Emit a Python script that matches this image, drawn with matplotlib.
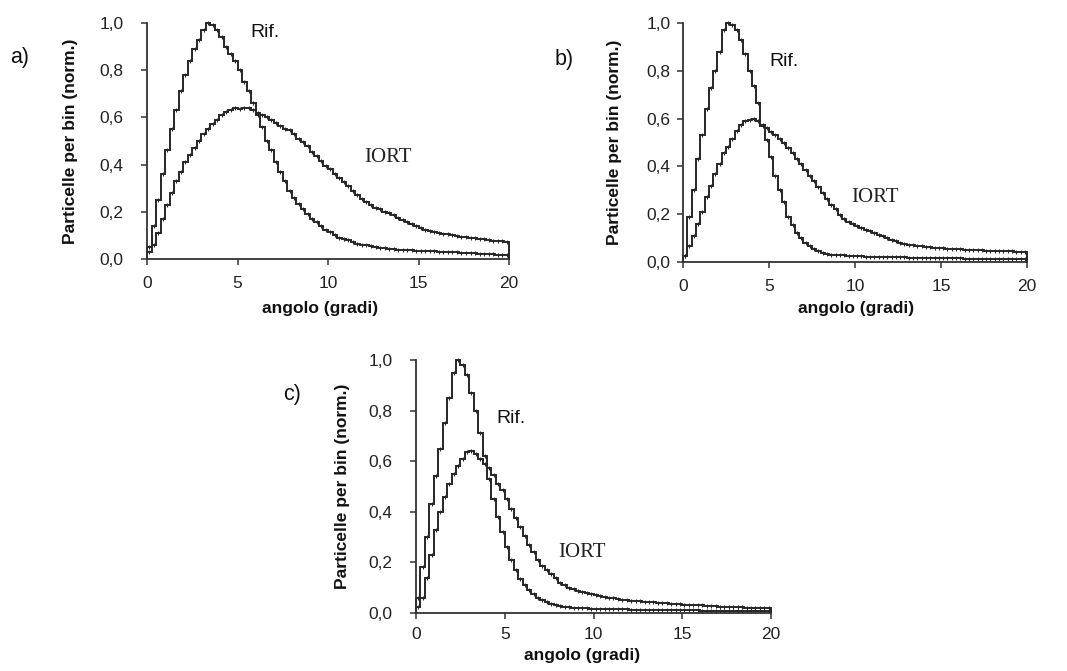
import numpy as np
import matplotlib
matplotlib.use("Agg")
import matplotlib.pyplot as plt

plt.rcParams['font.family'] = ['Liberation Sans', 'DejaVu Sans']

# bin edges: 0-20 deg, 0.25 deg bins
bin_width = 0.25
n_bins = 80

x_ticks = [0, 5, 10, 15, 20]
y_ticks = [0.0, 0.2, 0.4, 0.6, 0.8, 1.0]
y_tick_labels = ["0,0", "0,2", "0,4", "0,6", "0,8", "1,0"]

# ---- panel a ----
rif_a = [0.05, 0.14, 0.25, 0.36, 0.46, 0.55, 0.63, 0.71, 0.78, 0.84,
         0.89, 0.93, 0.97, 1.00, 0.99, 0.97, 0.94, 0.90, 0.87, 0.84,
         0.80, 0.75, 0.71, 0.66, 0.61, 0.56, 0.50, 0.46, 0.41, 0.37,
         0.33, 0.29, 0.26, 0.235, 0.21, 0.19, 0.17, 0.155, 0.14, 0.125,
         0.115, 0.10, 0.09, 0.085, 0.08, 0.07, 0.065, 0.06, 0.058, 0.055,
         0.05, 0.048, 0.046, 0.044, 0.042, 0.04, 0.039, 0.038, 0.037, 0.036,
         0.035, 0.034, 0.033, 0.032, 0.031, 0.030, 0.029, 0.028, 0.028, 0.027,
         0.026, 0.025, 0.024, 0.023, 0.022, 0.021, 0.020, 0.019, 0.018, 0.018]
iort_a = [0.03, 0.06, 0.11, 0.17, 0.23, 0.28, 0.33, 0.37, 0.41, 0.44,
          0.47, 0.50, 0.53, 0.55, 0.57, 0.59, 0.61, 0.625, 0.63, 0.64,
          0.635, 0.64, 0.64, 0.63, 0.62, 0.61, 0.60, 0.59, 0.575, 0.565,
          0.55, 0.545, 0.53, 0.51, 0.495, 0.48, 0.455, 0.435, 0.415, 0.395,
          0.38, 0.36, 0.345, 0.325, 0.31, 0.29, 0.27, 0.255, 0.24, 0.23,
          0.215, 0.21, 0.20, 0.195, 0.185, 0.175, 0.165, 0.155, 0.15, 0.14,
          0.13, 0.125, 0.12, 0.115, 0.11, 0.108, 0.105, 0.10, 0.098, 0.095,
          0.092, 0.09, 0.088, 0.085, 0.083, 0.08, 0.078, 0.076, 0.075, 0.073]

# ---- panel b ----
rif_b = [0.025, 0.19, 0.30, 0.43, 0.53, 0.64, 0.73, 0.80, 0.88, 0.97,
         1.00, 0.99, 0.97, 0.93, 0.87, 0.80, 0.735, 0.665, 0.57, 0.51,
         0.44, 0.36, 0.30, 0.25, 0.19, 0.155, 0.12, 0.10, 0.08, 0.065,
         0.055, 0.045, 0.038, 0.033, 0.031, 0.030, 0.029, 0.028, 0.027, 0.026,
         0.025, 0.024, 0.023, 0.023, 0.022, 0.022, 0.021, 0.021, 0.020, 0.020,
         0.019, 0.019, 0.018, 0.018, 0.018, 0.017, 0.017, 0.017, 0.016, 0.016,
         0.016, 0.015, 0.015, 0.015, 0.015, 0.014, 0.014, 0.014, 0.014, 0.013,
         0.013, 0.013, 0.013, 0.013, 0.012, 0.012, 0.012, 0.012, 0.012, 0.012]
iort_b = [0.025, 0.065, 0.11, 0.16, 0.21, 0.27, 0.32, 0.37, 0.41, 0.455,
          0.48, 0.515, 0.55, 0.575, 0.59, 0.595, 0.598, 0.59, 0.575, 0.56,
          0.545, 0.53, 0.515, 0.50, 0.475, 0.455, 0.43, 0.41, 0.385, 0.36,
          0.34, 0.315, 0.29, 0.265, 0.24, 0.22, 0.195, 0.18, 0.168, 0.16,
          0.15, 0.142, 0.135, 0.128, 0.12, 0.113, 0.107, 0.10, 0.093, 0.087,
          0.08, 0.076, 0.073, 0.07, 0.067, 0.065, 0.063, 0.061, 0.06, 0.058,
          0.057, 0.056, 0.055, 0.054, 0.053, 0.052, 0.051, 0.05, 0.05, 0.049,
          0.048, 0.047, 0.046, 0.046, 0.045, 0.044, 0.044, 0.043, 0.042, 0.042]

# ---- panel c ----
rif_c = [0.06, 0.18, 0.30, 0.43, 0.54, 0.65, 0.75, 0.85, 0.95, 1.00,
         0.98, 0.94, 0.87, 0.80, 0.71, 0.62, 0.53, 0.45, 0.38, 0.32,
         0.26, 0.21, 0.17, 0.135, 0.11, 0.09, 0.075, 0.06, 0.05, 0.042,
         0.036, 0.032, 0.028, 0.025, 0.023, 0.021, 0.020, 0.019, 0.018, 0.017,
         0.017, 0.016, 0.016, 0.015, 0.015, 0.014, 0.014, 0.014, 0.013, 0.013,
         0.013, 0.012, 0.012, 0.012, 0.012, 0.011, 0.011, 0.011, 0.011, 0.010,
         0.010, 0.010, 0.010, 0.010, 0.009, 0.009, 0.009, 0.009, 0.009, 0.009,
         0.009, 0.008, 0.008, 0.008, 0.008, 0.008, 0.008, 0.008, 0.008, 0.008]
iort_c = [0.025, 0.06, 0.14, 0.23, 0.33, 0.40, 0.46, 0.51, 0.55, 0.58,
          0.61, 0.635, 0.64, 0.63, 0.61, 0.59, 0.575, 0.545, 0.51, 0.485,
          0.45, 0.41, 0.375, 0.34, 0.305, 0.27, 0.24, 0.21, 0.185, 0.17,
          0.155, 0.14, 0.12, 0.11, 0.10, 0.095, 0.088, 0.083, 0.079, 0.075,
          0.071, 0.068, 0.064, 0.061, 0.058, 0.056, 0.053, 0.051, 0.049, 0.048,
          0.046, 0.045, 0.043, 0.042, 0.041, 0.039, 0.038, 0.037, 0.035, 0.034,
          0.032, 0.032, 0.031, 0.030, 0.030, 0.029, 0.028, 0.027, 0.025, 0.025,
          0.024, 0.023, 0.022, 0.022, 0.021, 0.020, 0.020, 0.019, 0.019, 0.018]

LINE = "#262626"


def draw_panel(ax, rif, iort, letter, letter_xy, rif_xy, iort_xy,
               ylab_x, xlab_xy, ypad, xpad):
    edges = np.arange(n_bins + 1) * bin_width
    centers = edges[:-1] + bin_width / 2
    for vals in (iort, rif):
        ax.stairs(vals, edges, baseline=0, color=LINE, lw=1.4, clip_on=False)
        ax.plot(centers, vals, ls="none", marker="|", ms=3.5, mew=0.8,
                color=LINE, clip_on=False)

    ax.set_xlim(0, 20)
    ax.set_ylim(0, 1.0)
    ax.set_xticks(x_ticks)
    ax.set_xticklabels([str(t) for t in x_ticks])
    ax.set_yticks(y_ticks)
    ax.set_yticklabels(y_tick_labels)
    ax.tick_params(axis="both", direction="out", length=4, width=1.1,
                   colors="#333333", labelsize=12.5, labelcolor="#222222")
    ax.tick_params(axis="y", pad=ypad)
    ax.tick_params(axis="x", pad=xpad)
    for s in ("top", "right"):
        ax.spines[s].set_visible(False)
    for s in ("left", "bottom"):
        ax.spines[s].set_color("#333333")
        ax.spines[s].set_linewidth(1.3)

    ax.set_ylabel("Particelle per bin (norm.)", fontsize=12.5,
                  fontweight="bold", color="#111111")
    ax.yaxis.set_label_coords(ylab_x, 0.5)
    ax.set_xlabel("angolo (gradi)", fontsize=12.5, fontweight="bold",
                  color="#111111")
    ax.xaxis.set_label_coords(*xlab_xy)

    ax.text(rif_xy[0], rif_xy[1], "Rif.", fontsize=14, color="#111111",
            ha="left", va="center")
    ax.text(iort_xy[0], iort_xy[1], "IORT", fontsize=15, color="#222222",
            family=["Liberation Serif", "DejaVu Serif"], ha="left", va="center")
    ax.figure.text(letter_xy[0], letter_xy[1], letter, fontsize=15.5,
                   color="#111111", ha="left", va="center")


W, H = 1067, 671
fig = plt.figure(figsize=(W / 100, H / 100), dpi=100)
fig.patch.set_facecolor("white")


def axes_px(left, top, right, bottom):
    return fig.add_axes([left / W, 1 - bottom / H, (right - left) / W,
                         (bottom - top) / H])


ax_a = axes_px(147, 23, 509, 259)
ax_b = axes_px(683, 23, 1027, 262)
ax_c = axes_px(416, 360, 771, 613)

draw_panel(ax_a, rif_a, iort_a, "a)", (10 / W, 1 - 57 / H),
           (5.7, 0.96), (12.0, 0.43), -0.19, (0.478, -0.18), 13, 8)
draw_panel(ax_b, rif_b, iort_b, "b)", (555 / W, 1 - 60 / H),
           (5.05, 0.84), (9.8, 0.27), -0.177, (0.503, -0.165), 5, 8)
draw_panel(ax_c, rif_c, iort_c, "c)", (283 / W, 1 - 394 / H),
           (4.5, 0.77), (8.0, 0.24), -0.186, (0.467, -0.14), 13, 6)

fig.savefig("out.png", dpi=100, facecolor="white")
